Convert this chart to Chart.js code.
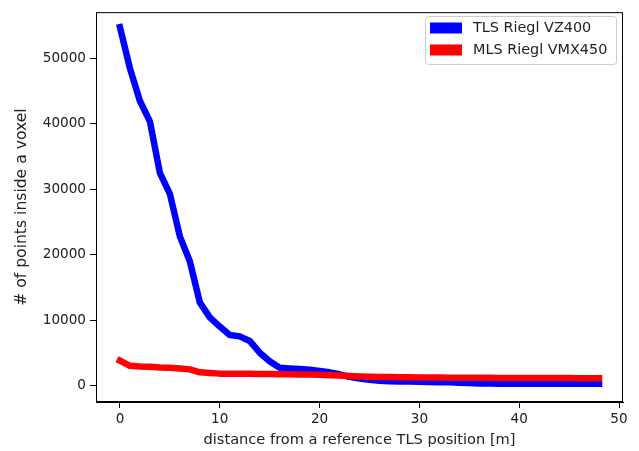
<!DOCTYPE html>
<html>
<head>
<meta charset="utf-8">
<script src="https://cdn.jsdelivr.net/npm/chart.js@4"></script>
<style>
  html, body { margin: 0; padding: 0; background: #fff; }
  #wrap { width: 639px; height: 451px; }
</style>
</head>
<body>
<div id="wrap"><canvas id="myChart" width="639" height="451"></canvas></div>
<script>
//data
const distances = [];
for (let d = 0; d <= 48; d++) distances.push(d);

const tlsPoints = [54800, 48500, 43500, 40400, 32500, 29300, 22800, 19000, 12700, 10400,
  9000, 7700, 7500, 6800, 5000, 3700, 2700, 2600, 2500, 2400,
  2200, 2000, 1700, 1300, 1050, 850, 700, 620, 600, 580,
  550, 520, 500, 480, 420, 350, 300, 280, 270, 270,
  265, 265, 260, 260, 255, 255, 250, 250, 250];

const mlsPoints = [3800, 3000, 2900, 2850, 2750, 2700, 2600, 2450, 2000, 1900,
  1800, 1780, 1780, 1770, 1760, 1750, 1720, 1700, 1680, 1650,
  1620, 1560, 1500, 1440, 1380, 1340, 1300, 1280, 1250, 1230,
  1200, 1195, 1190, 1180, 1170, 1165, 1160, 1155, 1150, 1145,
  1140, 1135, 1130, 1125, 1120, 1115, 1110, 1105, 1100];

const seriesLabels = ["TLS Riegl VZ400", "MLS Riegl VMX450"];
const seriesColors = ["#0000ff", "#ff0000"];
const xTicks = [0, 10, 20, 30, 40, 50];
const yTicks = [0, 10000, 20000, 30000, 40000, 50000];

const toXY = (vals) => vals.map((v, i) => ({ x: distances[i], y: v }));

//box + legend (matplotlib style)
const boxLegend = {
  id: "boxLegend",
  afterDraw(chart) {
    const { ctx, chartArea } = chart;
    ctx.save();
    ctx.strokeStyle = "#000";
    ctx.lineWidth = 1;
    ctx.strokeRect(chartArea.left + 0.5, chartArea.top + 0.5,
      chartArea.right - chartArea.left - 1, chartArea.bottom - chartArea.top - 1);

    // legend
    const lx = 425.5, ly = 16.5, lw = 191, lh = 48;
    ctx.fillStyle = "rgba(255,255,255,0.8)";
    ctx.strokeStyle = "#cccccc";
    ctx.beginPath();
    ctx.roundRect(lx, ly, lw, lh, 3);
    ctx.fill();
    ctx.stroke();
    ctx.font = "14.4px 'DejaVu Sans'";
    ctx.textBaseline = "middle";
    ctx.textAlign = "left";
    for (let i = 0; i < seriesLabels.length; i++) {
      const y = 28 + i * 22;
      ctx.fillStyle = seriesColors[i];
      ctx.fillRect(430, y - 5.5, 32, 11);
      ctx.fillStyle = "#222";
      ctx.fillText(seriesLabels[i], 473, y + 0.5);
    }
    ctx.restore();
  },
};

//config
const config = {
  type: "line",
  data: {
    datasets: [
      {
        label: seriesLabels[0],
        data: toXY(tlsPoints),
        borderColor: seriesColors[0],
        backgroundColor: seriesColors[0],
        borderWidth: 6.5,
        borderCapStyle: "square",
        borderJoinStyle: "round",
        pointRadius: 0,
        tension: 0,
        order: 1,
      },
      {
        label: seriesLabels[1],
        data: toXY(mlsPoints),
        borderColor: seriesColors[1],
        backgroundColor: seriesColors[1],
        borderWidth: 6.5,
        borderCapStyle: "square",
        borderJoinStyle: "round",
        pointRadius: 0,
        tension: 0,
        order: 0,
      },
    ],
  },
  options: {
    responsive: false,
    animation: false,
    layout: { padding: { top: 9, right: 16, left: 0, bottom: 0 } },
    scales: {
      x: {
        type: "linear",
        min: -2.4,
        max: 50.4,
        afterFit: (s) => { s.height = 49; },
        afterBuildTicks: (s) => { s.ticks = xTicks.map((v) => ({ value: v })); },
        ticks: {
          includeBounds: false,
          padding: 3,
          color: "#222",
          font: { family: "DejaVu Sans", size: 13.6 },
          callback: (v) => String(v),
        },
        grid: { drawOnChartArea: false, tickLength: 6, color: "#000" },
        border: { display: true, color: "#000" },
        title: {
          display: true,
          text: "distance from a reference TLS position [m]",
          color: "#222",
          font: { family: "DejaVu Sans", size: 14.6 },
          padding: { top: 0, bottom: 2 },
        },
      },
      y: {
        min: -2540,
        max: 57100,
        afterFit: (s) => { s.width = 96; },
        afterBuildTicks: (s) => { s.ticks = yTicks.map((v) => ({ value: v })); },
        ticks: {
          includeBounds: false,
          padding: 4,
          color: "#222",
          font: { family: "DejaVu Sans", size: 13.6 },
          callback: (v) => String(v),
        },
        grid: { drawOnChartArea: false, tickLength: 6, color: "#000" },
        border: { display: true, color: "#000" },
        title: {
          display: true,
          text: "# of points inside a voxel",
          color: "#222",
          font: { family: "DejaVu Sans", size: 15.6 },
          padding: { top: 13, bottom: 0 },
        },
      },
    },
    plugins: {
      legend: { display: false },
      tooltip: { enabled: false },
    },
  },
  plugins: [boxLegend],
};

const myChart = new Chart(document.getElementById("myChart"), config);
</script>
</body>
</html>
